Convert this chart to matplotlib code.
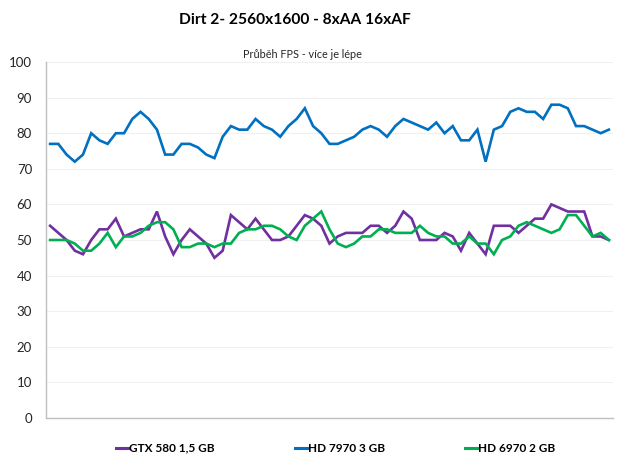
import matplotlib
matplotlib.use("Agg")
import matplotlib.pyplot as plt
from matplotlib.lines import Line2D

plt.rcParams['font.family'] = ['Lato', 'DejaVu Sans']

title = "Dirt 2- 2560x1600 - 8xAA 16xAF"
subtitle = "Průběh FPS - více je lépe"
series_names = ["GTX 580 1,5 GB", "HD 7970 3 GB", "HD 6970 2 GB"]
colors = ["#7030A0", "#0070C0", "#00B050"]
yticks = [0, 10, 20, 30, 40, 50, 60, 70, 80, 90, 100]

gtx580 = [54, 52, 50, 47, 46, 50, 53, 53, 56, 51, 52, 53, 53, 58, 51, 46, 50, 53, 51, 49, 45, 47, 57, 55,
          53, 56, 53, 50, 50, 51, 54, 57, 56, 54, 49, 51, 52, 52, 52, 54, 54, 52, 54, 58, 56, 50, 50,
          50, 52, 51, 47, 52, 49, 46, 54, 54, 54, 52, 54, 56, 56, 60, 59, 58, 58, 58, 51, 51, 50]
hd7970 = [77, 77, 74, 72, 74, 80, 78, 77, 80, 80, 84, 86, 84, 81, 74, 74, 77, 77, 76, 74, 73, 79, 82, 81,
          81, 84, 82, 81, 79, 82, 84, 87, 82, 80, 77, 77, 78, 79, 81, 82, 81, 79, 82, 84, 83, 82, 81,
          83, 80, 82, 78, 78, 81, 72, 81, 82, 86, 87, 86, 86, 84, 88, 88, 87, 82, 82, 81, 80, 81]
hd6970 = [50, 50, 50, 49, 47, 47, 49, 52, 48, 51, 51, 52, 54, 55, 55, 53, 48, 48, 49, 49, 48, 49, 49, 52,
          53, 53, 54, 54, 53, 51, 50, 54, 56, 58, 53, 49, 48, 49, 51, 51, 53, 53, 52, 52, 52, 54, 52,
          51, 51, 49, 49, 51, 49, 49, 46, 50, 51, 54, 55, 54, 53, 52, 53, 57, 57, 54, 51, 52, 50]

data = [gtx580, hd7970, hd6970]

fig = plt.figure(figsize=(6.2, 4.62), dpi=100)
ax = fig.add_axes([0.0742, 0.0952, 0.9145, 0.7706])

x = list(range(len(gtx580)))
for vals, c in zip(data, colors):
    ax.plot(x, vals, color=c, linewidth=1.9, solid_joinstyle='miter')

ax.set_xlim(-0.5, 68.5)
ax.set_ylim(0, 100)
ax.set_yticks(yticks)
ax.set_yticklabels([str(v) for v in yticks], fontsize=9.5, color="#262626")
ax.set_xticks([])
ax.tick_params(axis='y', length=0, pad=10)
ax.grid(axis='y', color="#F0F0F0", linewidth=0.8)
ax.set_axisbelow(True)
for s in ['top', 'right']:
    ax.spines[s].set_visible(False)
for s in ['left', 'bottom']:
    ax.spines[s].set_color("#BFBFBF")
    ax.spines[s].set_linewidth(1.0)

fig.text(0.476, 0.957, title, ha='center', va='center', fontsize=11.2, fontweight='bold', color='black')
fig.text(0.487, 0.881, subtitle, ha='center', va='center', fontsize=7.8, color='#262626')

handles = [Line2D([0], [0], color=c, linewidth=2.2) for c in colors]
leg = fig.legend(handles, series_names, loc='center', bbox_to_anchor=(0.542, 0.03), ncol=3,
                 frameon=False, handlelength=1.0, handletextpad=0.1, columnspacing=6.8,
                 prop={'size': 8.5, 'weight': 'bold'})

fig.savefig("out.png", dpi=100)
